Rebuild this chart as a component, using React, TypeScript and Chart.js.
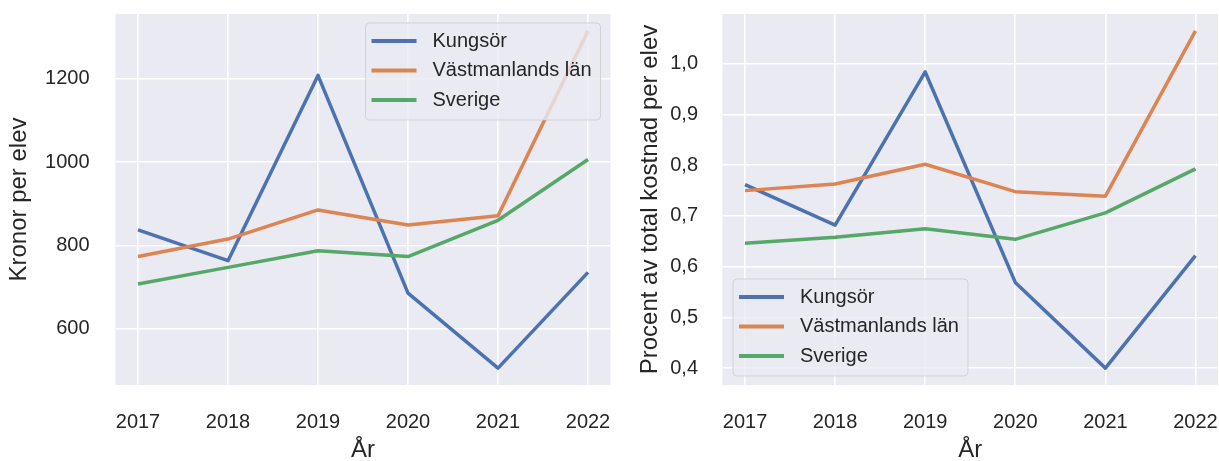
import React, { useEffect, useRef } from "react";
import { Chart, registerables } from "chart.js";

Chart.register(...registerables);

const FONT = "'Liberation Sans', Arial, Helvetica, sans-serif";
const TEXT_COLOR = "#262626";

const years = [2017, 2018, 2019, 2020, 2021, 2022];
const seriesNames = ["Kungsör", "Västmanlands län", "Sverige"];
const seriesColors = ["#4C72B0", "#DD8452", "#55A868"];

const kronorKungsor = [837, 763, 1208, 685, 505, 735];
const kronorVastmanland = [773, 815, 885, 849, 871, 1315];
const kronorSverige = [707, 747, 787, 773, 860, 1006];
const kronorTicks = [600, 800, 1000, 1200];

const procentKungsor = [0.762, 0.682, 0.984, 0.569, 0.4, 0.622];
const procentVastmanland = [0.75, 0.763, 0.802, 0.748, 0.739, 1.065];
const procentSverige = [0.646, 0.658, 0.675, 0.654, 0.706, 0.793];
const procentTicks = [0.4, 0.5, 0.6, 0.7, 0.8, 0.9, 1.0];

const bgPlugin = {
  id: "sbBackground",
  beforeDraw(chart: any) {
    const { ctx, chartArea } = chart;
    ctx.save();
    ctx.fillStyle = "#EAEAF2";
    ctx.fillRect(chartArea.left, chartArea.top, chartArea.right - chartArea.left, chartArea.bottom - chartArea.top);
    ctx.restore();
  },
};

const legendPlugin = {
  id: "sbLegend",
  afterDatasetsDraw(chart: any, _args: any, opts: any) {
    const { ctx, chartArea } = chart;
    ctx.save();
    ctx.font = `20px ${FONT}`;
    const labels: string[] = chart.data.datasets.map((d: any) => d.label);
    const maxW = Math.max(...labels.map((l) => ctx.measureText(l).width));
    const rowH = 29.5;
    const w = 67 + maxW + 9;
    const h = 18 + rowH * (labels.length - 1) + 20;
    let x: number;
    let y: number;
    if (opts.position === "upper right") {
      x = chartArea.right - 10 - w;
      y = chartArea.top + 9;
    } else {
      x = chartArea.left + 10.5;
      y = chartArea.bottom - 9 - h;
    }
    const r = 4;
    ctx.beginPath();
    ctx.moveTo(x + r, y);
    ctx.lineTo(x + w - r, y);
    ctx.quadraticCurveTo(x + w, y, x + w, y + r);
    ctx.lineTo(x + w, y + h - r);
    ctx.quadraticCurveTo(x + w, y + h, x + w - r, y + h);
    ctx.lineTo(x + r, y + h);
    ctx.quadraticCurveTo(x, y + h, x, y + h - r);
    ctx.lineTo(x, y + r);
    ctx.quadraticCurveTo(x, y, x + r, y);
    ctx.closePath();
    ctx.fillStyle = "rgba(234,234,242,0.8)";
    ctx.fill();
    ctx.strokeStyle = "rgba(204,204,204,0.8)";
    ctx.lineWidth = 1;
    ctx.stroke();
    chart.data.datasets.forEach((d: any, i: number) => {
      const cy = y + 18 + i * rowH;
      ctx.beginPath();
      ctx.strokeStyle = d.borderColor;
      ctx.lineWidth = 3.8;
      ctx.moveTo(x + 6, cy);
      ctx.lineTo(x + 51, cy);
      ctx.stroke();
      ctx.fillStyle = TEXT_COLOR;
      ctx.textAlign = "left";
      ctx.textBaseline = "middle";
      ctx.fillText(d.label, x + 67, cy);
    });
    ctx.restore();
  },
};

function limits(arrays: number[][]) {
  const all = arrays.flat();
  const mn = Math.min(...all);
  const mx = Math.max(...all);
  const m = (mx - mn) * 0.05;
  return { min: mn - m, max: mx + m };
}

type Cfg = {
  series: number[][];
  ticks: number[];
  fmt: (v: number) => string;
  yTitle: string;
  yAxisWidth: number;
  yTickPad: number;
  yTitlePad: number;
  rightPad: number;
  legendPos: string;
};

function makeConfig(c: Cfg): any {
  const lim = limits(c.series);
  return {
    type: "line",
    data: {
      datasets: c.series.map((vals, i) => ({
        label: seriesNames[i],
        data: years.map((yr, j) => ({ x: yr, y: vals[j] })),
        borderColor: seriesColors[i],
        backgroundColor: seriesColors[i],
        borderWidth: 3.5,
        pointRadius: 0,
        tension: 0,
        fill: false,
        borderJoinStyle: "round",
        borderCapStyle: "butt",
        order: c.series.length - i,
      })),
    },
    options: {
      animation: false,
      responsive: false,
      devicePixelRatio: 1,
      layout: { padding: { left: 0, top: 14, right: c.rightPad, bottom: 0 } },
      plugins: {
        legend: { display: false },
        tooltip: { enabled: false },
        sbLegend: { position: c.legendPos },
      },
      scales: {
        x: {
          type: "linear",
          min: years[0] - 0.25,
          max: years[years.length - 1] + 0.25,
          afterBuildTicks: (s: any) => {
            s.ticks = years.map((v) => ({ value: v }));
          },
          afterFit: (s: any) => {
            s.height = 76;
            s.paddingLeft = 0;
            s.paddingRight = 0;
            s.paddingTop = 0;
            s.paddingBottom = 0;
          },
          grid: { color: "#FFFFFF", lineWidth: 1.6, drawTicks: false },
          border: { display: false },
          ticks: {
            padding: 25,
            color: TEXT_COLOR,
            font: { family: FONT, size: 20 },
            maxRotation: 0,
            callback: (v: any) => String(v),
          },
          title: {
            display: true,
            text: "År",
            color: TEXT_COLOR,
            font: { family: FONT, size: 24 },
            padding: { top: 0, bottom: -4 },
          },
        },
        y: {
          type: "linear",
          min: lim.min,
          max: lim.max,
          afterBuildTicks: (s: any) => {
            s.ticks = c.ticks.map((v) => ({ value: v }));
          },
          afterFit: (s: any) => {
            s.width = c.yAxisWidth;
            s.paddingLeft = 0;
            s.paddingRight = 0;
            s.paddingTop = 0;
            s.paddingBottom = 0;
          },
          grid: { color: "#FFFFFF", lineWidth: 1.6, drawTicks: false },
          border: { display: false },
          ticks: {
            padding: c.yTickPad,
            color: TEXT_COLOR,
            font: { family: FONT, size: 20 },
            callback: (v: any) => c.fmt(Number(v)),
          },
          title: {
            display: true,
            text: c.yTitle,
            color: TEXT_COLOR,
            font: { family: FONT, size: 24 },
            padding: { top: c.yTitlePad, bottom: 0 },
          },
        },
      },
    },
    plugins: [bgPlugin, legendPlugin],
  };
}

export default function App() {
  const leftRef = useRef<HTMLCanvasElement>(null);
  const rightRef = useRef<HTMLCanvasElement>(null);

  useEffect(() => {
    const left = new Chart(
      leftRef.current as HTMLCanvasElement,
      makeConfig({
        series: [kronorKungsor, kronorVastmanland, kronorSverige],
        ticks: kronorTicks,
        fmt: (v) => String(Math.round(v)),
        yTitle: "Kronor per elev",
        yAxisWidth: 115.5,
        yTickPad: 26,
        yTitlePad: 5.2,
        rightPad: 4.5,
        legendPos: "upper right",
      })
    );
    const right = new Chart(
      rightRef.current as HTMLCanvasElement,
      makeConfig({
        series: [procentKungsor, procentVastmanland, procentSverige],
        ticks: procentTicks,
        fmt: (v) => v.toFixed(1).replace(".", ","),
        yTitle: "Procent av total kostnad per elev",
        yAxisWidth: 107.5,
        yTickPad: 24.5,
        yTitlePad: 20.5,
        rightPad: 1,
        legendPos: "lower left",
      })
    );
    return () => {
      left.destroy();
      right.destroy();
    };
  }, []);

  return (
    <div style={{ position: "fixed", left: 0, top: 0, width: 1219, height: 461, background: "#FFFFFF" }}>
      <canvas ref={leftRef} width={615} height={461} style={{ position: "absolute", left: 0, top: 0, width: 615, height: 461 }} />
      <canvas ref={rightRef} width={604} height={461} style={{ position: "absolute", left: 615, top: 0, width: 604, height: 461 }} />
    </div>
  );
}
